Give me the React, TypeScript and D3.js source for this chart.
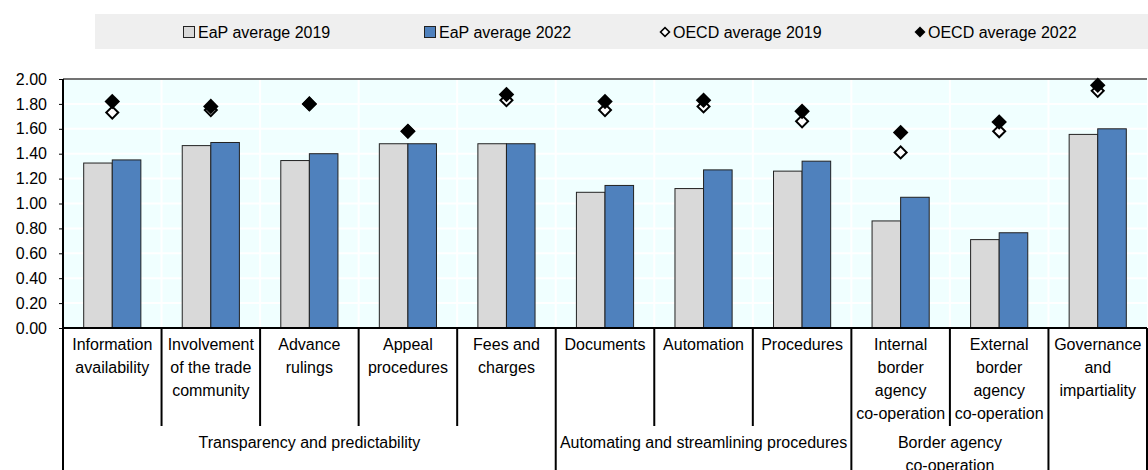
import React, { useEffect, useRef } from 'react';
import * as d3 from 'd3';

const categories = [
  'Information\navailability',
  'Involvement\nof the trade\ncommunity',
  'Advance\nrulings',
  'Appeal\nprocedures',
  'Fees and\ncharges',
  'Documents',
  'Automation',
  'Procedures',
  'Internal\nborder\nagency\nco-operation',
  'External\nborder\nagency\nco-operation',
  'Governance\nand\nimpartiality',
];

const groupNames = ['Transparency and predictability', 'Automating and streamlining procedures', 'Border agency\nco-operation', ''];
const groupSizes = [5, 3, 2, 1];

const eap2019 = [1.325, 1.465, 1.345, 1.48, 1.48, 1.09, 1.12, 1.26, 0.86, 0.71, 1.555];
const eap2022 = [1.35, 1.49, 1.40, 1.48, 1.48, 1.145, 1.27, 1.34, 1.05, 0.765, 1.60];
const oecd2019 = [1.73, 1.75, 1.80, 1.58, 1.83, 1.75, 1.78, 1.66, 1.41, 1.58, 1.905];
const oecd2022 = [1.82, 1.78, 1.80, 1.58, 1.875, 1.82, 1.83, 1.74, 1.57, 1.655, 1.95];

const yTicks = [0, 0.2, 0.4, 0.6, 0.8, 1.0, 1.2, 1.4, 1.6, 1.8, 2.0];
const legendLabels = ['EaP average 2019', 'EaP average 2022', 'OECD average 2019', 'OECD average 2022'];

const FONT = '"Liberation Sans", Arial, sans-serif';

export default function App() {
  const svgRef = useRef<SVGSVGElement>(null);

  useEffect(() => {
    if (!svgRef.current) return;
    const svg = d3.select(svgRef.current);
    svg.selectAll('*').remove();

    const W = 1148, H = 470;
    const left = 63, right = 1147, top = 79, bottom = 328;

    const x0 = d3.scaleBand<number>().domain(d3.range(categories.length)).range([left, right]).padding(0);
    const bw = x0.bandwidth();
    const x1 = d3.scaleBand<string>().domain(['2019', '2022']).range([bw * 0.21, bw * 0.79]).padding(0);
    const y = d3.scaleLinear().domain([0, 2]).range([bottom, top]);

    // legend
    svg.append('rect').attr('x', 95).attr('y', 14).attr('width', W - 95).attr('height', 35).attr('fill', '#efefef');
    const legendX = [183, 424, 660, 915];
    legendLabels.forEach((lab, i) => {
      const lx = legendX[i];
      if (i < 2) {
        svg.append('rect').attr('x', lx + 0.5).attr('y', 26.5).attr('width', 11).attr('height', 11)
          .attr('fill', i === 0 ? '#d9d9d9' : '#4f81bd').attr('stroke', '#222').attr('stroke-width', 1);
      } else {
        svg.append('path')
          .attr('d', d3.symbol(d3.symbolSquare, i === 2 ? 40 : 60)())
          .attr('transform', `translate(${lx + 5},32) rotate(45)`)
          .attr('fill', i === 2 ? '#fff' : '#000')
          .attr('stroke', '#000').attr('stroke-width', i === 2 ? 1.6 : 0);
      }
      svg.append('text').attr('x', lx + (i < 2 ? 15 : 13)).attr('y', 32).attr('dy', '0.35em')
        .attr('font-family', FONT).attr('font-size', 16).attr('fill', '#000').text(lab);
    });

    // plot background
    svg.append('rect').attr('x', left).attr('y', top).attr('width', right - left).attr('height', bottom - top).attr('fill', '#f0ffff');

    // gridlines
    svg.append('g').selectAll('line').data(yTicks.slice(1)).enter().append('line')
      .attr('x1', left).attr('x2', right).attr('y1', d => y(d)).attr('y2', d => y(d))
      .attr('stroke', '#fff').attr('stroke-width', 2);
    svg.append('g').selectAll('line').data(d3.range(1, categories.length)).enter().append('line')
      .attr('x1', d => x0(d)!).attr('x2', d => x0(d)!).attr('y1', top).attr('y2', bottom)
      .attr('stroke', '#fff').attr('stroke-width', 2);

    // top frame
    svg.append('line').attr('x1', left).attr('x2', right).attr('y1', top).attr('y2', top).attr('stroke', '#444').attr('stroke-width', 1.5);

    // bars
    const series = [
      { key: '2019', values: eap2019, fill: '#d9d9d9' },
      { key: '2022', values: eap2022, fill: '#4f81bd' },
    ];
    series.forEach(s => {
      svg.append('g').selectAll('rect').data(s.values).enter().append('rect')
        .attr('x', (_, i) => x0(i)! + x1(s.key)!)
        .attr('width', x1.bandwidth())
        .attr('y', d => y(d))
        .attr('height', d => y(0) - y(d))
        .attr('fill', s.fill)
        .attr('stroke', '#222').attr('stroke-width', 1);
    });

    // OECD markers
    const cx = (i: number) => x0(i)! + bw / 2;
    svg.append('g').selectAll('path').data(oecd2019).enter().append('path')
      .attr('d', d3.symbol(d3.symbolSquare, 72)())
      .attr('transform', (d, i) => `translate(${cx(i)},${y(d)}) rotate(45)`)
      .attr('fill', '#fff').attr('stroke', '#000').attr('stroke-width', 2);
    svg.append('g').selectAll('path').data(oecd2022).enter().append('path')
      .attr('d', d3.symbol(d3.symbolSquare, 121)())
      .attr('transform', (d, i) => `translate(${cx(i)},${y(d)}) rotate(45)`)
      .attr('fill', '#000');

    // y axis
    const yAxis = svg.append('g').attr('transform', `translate(${left},0)`)
      .call(d3.axisLeft(y).tickValues(yTicks).tickFormat(d3.format('.2f')).tickSize(4).tickPadding(12));
    yAxis.select('.domain').remove();
    yAxis.selectAll('line').attr('stroke', '#000');
    yAxis.selectAll('text').attr('fill', '#000').attr('font-family', FONT).attr('font-size', 16);

    // axis lines
    svg.append('line').attr('x1', left).attr('x2', left).attr('y1', top).attr('y2', H).attr('stroke', '#000').attr('stroke-width', 2);
    svg.append('line').attr('x1', left).attr('x2', right).attr('y1', bottom).attr('y2', bottom).attr('stroke', '#000').attr('stroke-width', 2);

    // category labels
    const lineH = 23;
    categories.forEach((c, i) => {
      const t = svg.append('text').attr('x', cx(i)).attr('y', 344).attr('text-anchor', 'middle')
        .attr('font-family', FONT).attr('font-size', 16).attr('fill', '#000');
      c.split('\n').forEach((ln, j) => {
        t.append('tspan').attr('x', cx(i)).attr('y', 344 + j * lineH).attr('dy', '0.35em').text(ln);
      });
    });

    // separators
    const groupStarts: number[] = [];
    let acc = 0;
    groupSizes.forEach(s => { groupStarts.push(acc); acc += s; });
    const groupBounds = new Set(groupStarts.concat([categories.length]));
    d3.range(1, categories.length + 1).forEach(i => {
      const xx = i < categories.length ? x0(i)! : right;
      svg.append('line').attr('x1', xx).attr('x2', xx).attr('y1', bottom).attr('y2', groupBounds.has(i) ? H : 426)
        .attr('stroke', '#000').attr('stroke-width', 2);
    });

    // group labels
    groupNames.forEach((g, k) => {
      const a = x0(groupStarts[k])!;
      const b = a + groupSizes[k] * bw;
      const t = svg.append('text').attr('text-anchor', 'middle')
        .attr('font-family', FONT).attr('font-size', 16).attr('fill', '#000');
      g.split('\n').forEach((ln, j) => {
        t.append('tspan').attr('x', (a + b) / 2).attr('y', 442 + j * lineH).attr('dy', '0.35em').text(ln);
      });
    });
  }, []);

  return (
    <svg ref={svgRef} width={1148} height={470}
      style={{ position: 'absolute', left: 0, top: 0, display: 'block', background: '#fff' }} />
  );
}
